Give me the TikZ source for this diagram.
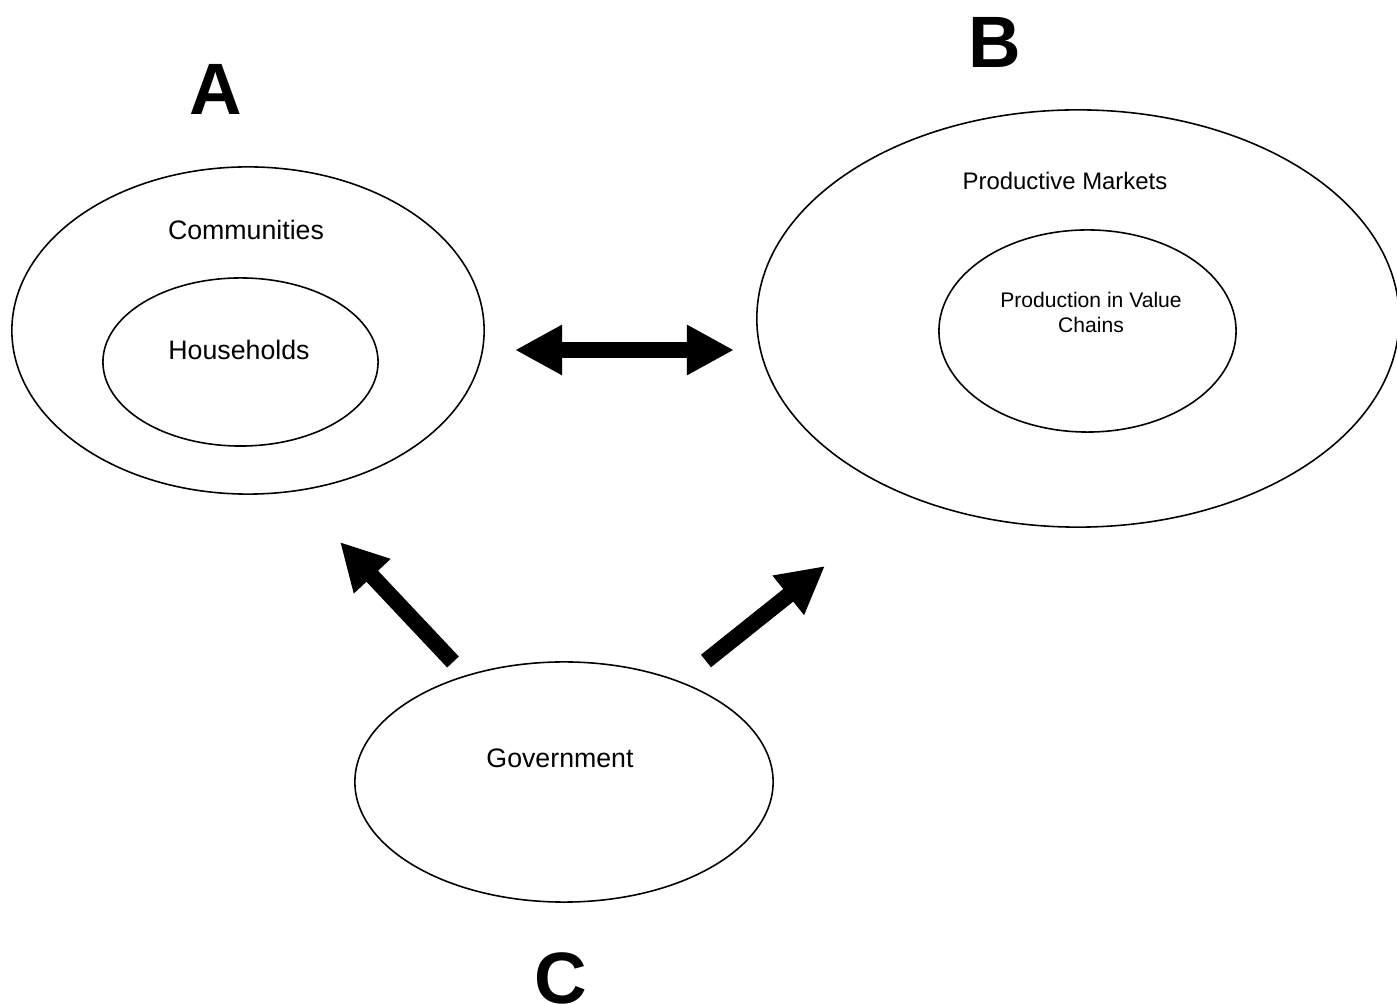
\documentclass[tikz,border=0pt]{standalone}
\usepackage{fontspec}
\setmainfont{Liberation Sans}
\usepackage{tikz}
\usetikzlibrary{shapes.geometric,arrows.meta,positioning,calc}

\begin{document}
\begin{tikzpicture}[x=0.01cm, y=-0.01cm,
    fat/.tip={Triangle[length=4.7mm, width=4.7mm]},
    ring/.style={draw, ellipse, line width=0.45pt, inner sep=0pt},
    txt/.style={anchor=base, inner sep=0pt, font=\fontsize{7.6}{9}\selectfont},
    letter/.style={anchor=base, inner sep=0pt, font=\fontsize{20.7}{24}\selectfont\bfseries},
    bigarrow/.style={line width=1.6mm}]
    \clip (0, 0) rectangle (1397, 1004);
    % Group A: communities and households
    \node[ring, minimum width=4.72cm, minimum height=3.27cm] (comm) at (248, 330.5) {};
    \node[ring, minimum width=2.75cm, minimum height=1.68cm] (hh) at (240.5, 362) {};
    \node[txt] (commlbl) at (246, 240) {Communities};
    \node[txt] (hhlbl) at (239, 360) {Households};
    \node[letter] (lblA) at (216, 115) {A};
    % Group B: markets and value chains
    \node[ring, minimum width=6.42cm, minimum height=4.17cm] (mkt) at (1078, 318.5) {};
    \node[ring, minimum width=2.97cm, minimum height=2.02cm] (vc) at (1087.5, 331) {};
    \node[txt, font=\fontsize{6.8}{8}\selectfont] (mktlbl) at (1065, 190) {Productive Markets};
    \node[anchor=center, inner sep=0pt, align=center, font=\fontsize{6}{7.1}\selectfont] (vclbl) at (1091, 312) {Production in Value\\Chains};
    \node[letter] (lblB) at (995, 68) {B};
    % Group C: government
    \node[ring, minimum width=4.18cm, minimum height=2.40cm] (gov) at (564, 782) {};
    \node[txt] (govlbl) at (560, 768) {Government};
    \node[letter] (lblC) at (561, 1004) {C};
    % Arrow ends
    \coordinate (abL) at (515, 350);
    \coordinate (abR) at (734, 350);
    \coordinate (gA) at (453, 662);
    \coordinate (tA) at (340, 542);
    \coordinate (gB) at (706, 661);
    \coordinate (tB) at (825, 566);
    % Connecting Arrows
    \draw[bigarrow, fat-fat] (abL) -- (abR);
    \draw[bigarrow, -fat] (gA) -- (tA);
    \draw[bigarrow, -fat] (gB) -- (tB);
\end{tikzpicture}
\end{document}
